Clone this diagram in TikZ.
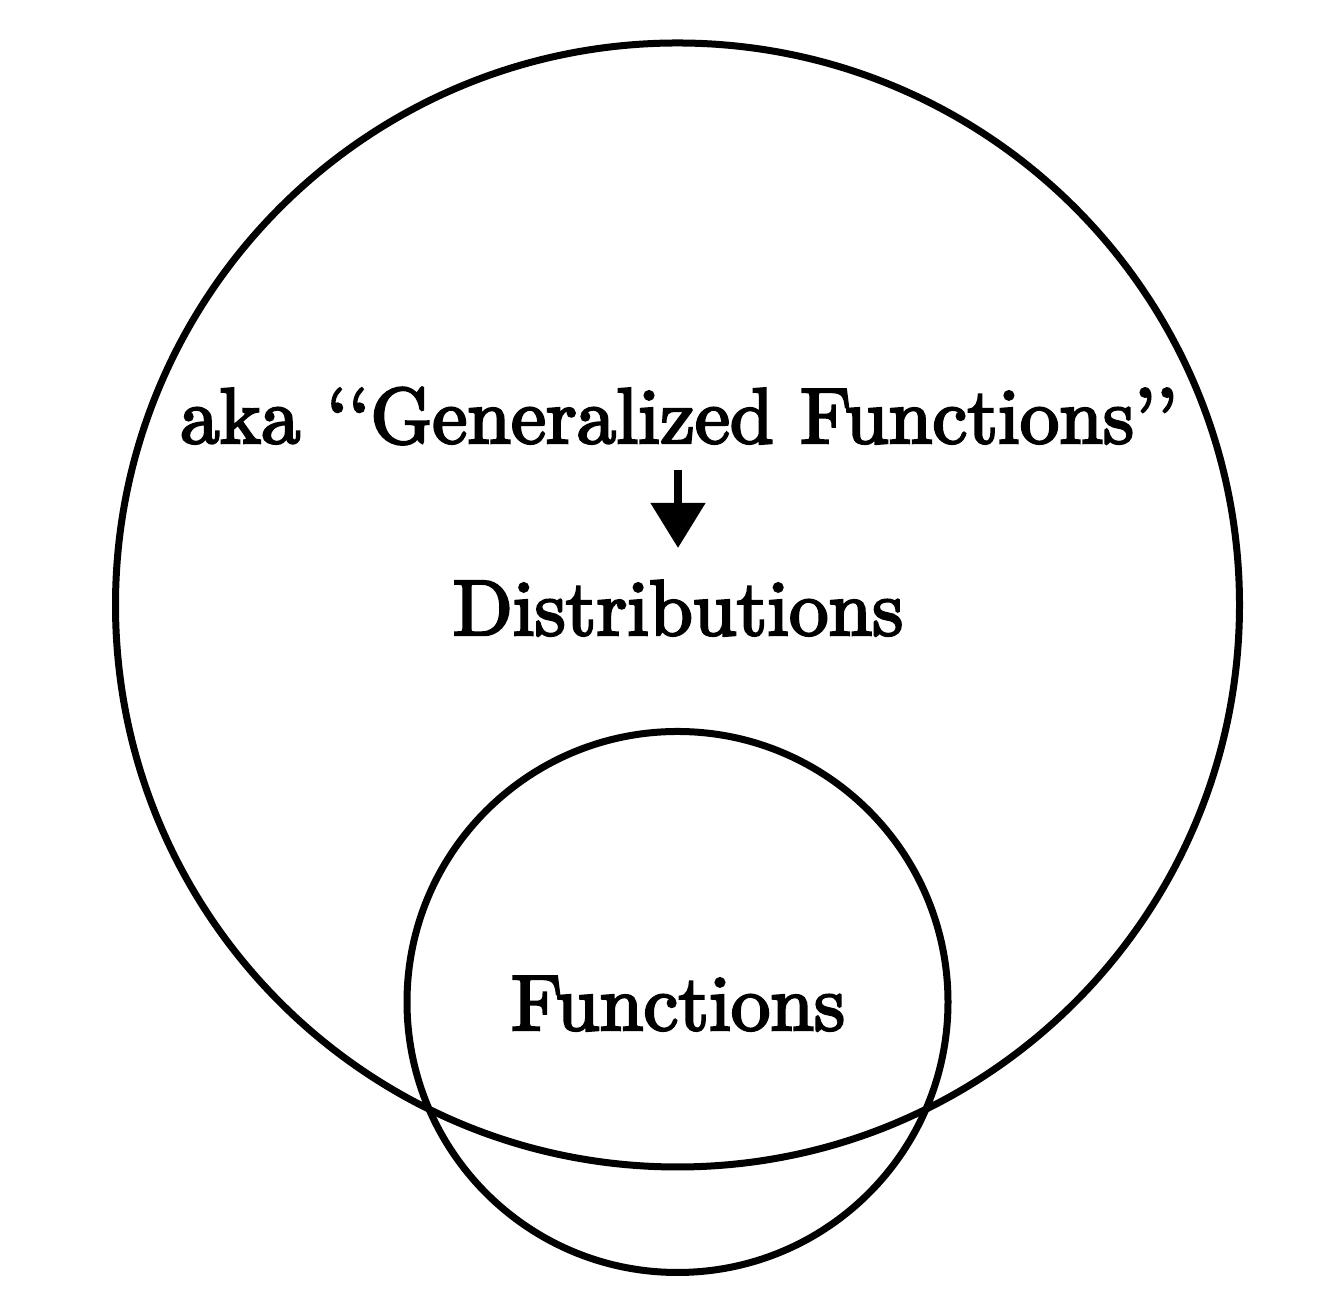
\documentclass[tikz,border=0pt]{standalone}
\usepackage{fontspec}
\newfontfamily\labfont{lmroman10-regular}[Extension=.otf, Ligatures=TeX, FakeBold=3.2]
\usetikzlibrary{arrows.meta}
\tikzset{
  ring/.style={circle, draw, line width=0.07cm, inner sep=0pt},
  lbl/.style={anchor=base, inner sep=0pt, font=\labfont\fontsize{22.4}{27}\selectfont},
  pointer/.style={line width=0.08cm, -{Triangle[width=0.53cm,length=0.45cm]}}
}
\begin{document}
\begin{tikzpicture}
\useasboundingbox (0,0) rectangle (13.42,12.94);
\node[ring, minimum size=11.24cm] (big) at (6.775,6.89) {};
\node[ring, minimum size=5.41cm] (small) at (6.775,2.92) {};
\node[lbl] (aka) at (6.79,8.51) {aka ‘‘Generalized Functions’’};
\node[lbl] (dist) at (6.78,6.59) {Distributions};
\node[lbl] (func) at (6.78,2.64) {Functions};
\coordinate (arrS) at (6.78,8.24);
\coordinate (arrE) at (6.78,7.46);
\draw[pointer] (arrS) -- (arrE);
\end{tikzpicture}
\end{document}
